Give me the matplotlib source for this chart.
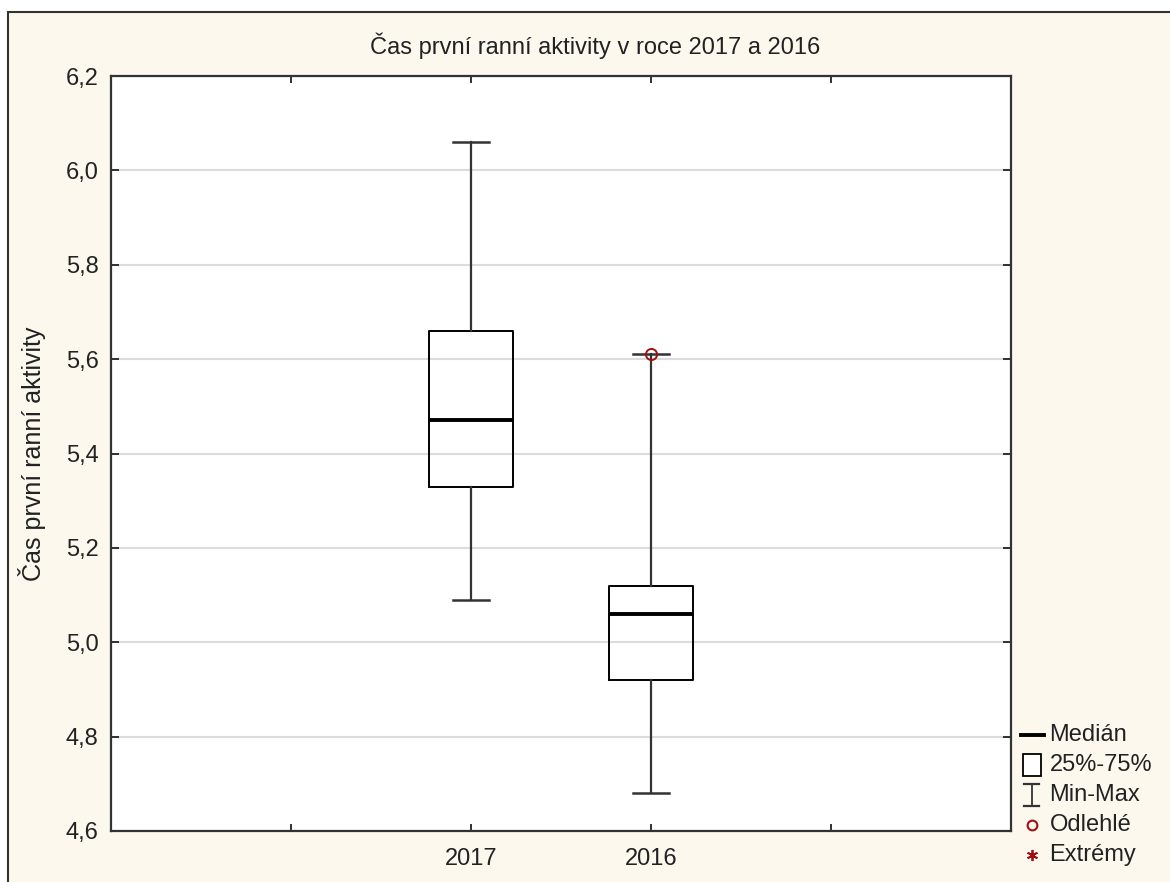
import matplotlib.pyplot as plt
import numpy as np
from matplotlib.patches import Rectangle
from matplotlib.ticker import FuncFormatter

# box statistics
years = ["2017", "2016"]
minimum = [5.09, 4.68]
q1 = [5.33, 4.92]
median = [5.47, 5.06]
q3 = [5.66, 5.12]
maximum = [6.06, 5.61]
outlier_values = [[], [5.61]]

legend_labels = ["Medián", "25%-75%", "Min-Max", "Odlehlé", "Extrémy"]

CREAM = "#fdf8ee"
RED = "#a01010"
TXT = "#222222"

plt.rcParams["font.family"] = ["Liberation Sans", "DejaVu Sans"]


def plot():
    fig = plt.figure(figsize=(11.7, 8.82), dpi=100, facecolor="white")
    W, H = 1170, 882

    # outer panel with border
    fig.patches.append(Rectangle((8 / W, -0.05), 1.1, (H - 12) / H + 0.05,
                                 transform=fig.transFigure, facecolor=CREAM,
                                 edgecolor="#333333", linewidth=1.5, zorder=-10))

    ax = fig.add_axes([111 / W, 1 - 831 / H, 900 / W, 755 / H])
    ax.set_facecolor("white")

    positions = np.arange(len(years)) + 2
    stats = []
    for i, y in enumerate(years):
        stats.append({"med": median[i], "q1": q1[i], "q3": q3[i],
                      "whislo": minimum[i], "whishi": maximum[i],
                      "fliers": outlier_values[i], "label": y})

    ax.bxp(stats, positions=positions, widths=0.47, showfliers=True,
           boxprops=dict(color="black", linewidth=1.4),
           medianprops=dict(color="black", linewidth=2.8),
           whiskerprops=dict(color="#333333", linewidth=1.6),
           capprops=dict(color="#333333", linewidth=1.8),
           capwidths=0.2,
           flierprops=dict(marker="o", markerfacecolor="none",
                           markeredgecolor=RED, markersize=8,
                           markeredgewidth=1.4))

    ax.set_xlim(0, 5)
    ax.set_ylim(4.6, 6.2)
    ax.set_yticks(np.arange(4.6, 6.21, 0.2))
    ax.yaxis.set_major_formatter(FuncFormatter(lambda v, p: f"{v:.1f}".replace(".", ",")))
    ax.set_xticks([1, 2, 3, 4])
    ax.set_xticklabels(["", years[0], years[1], ""])
    ax.grid(axis="y", color="#dcdcdc", linewidth=1.5)
    ax.set_axisbelow(True)
    ax.tick_params(direction="in", top=True, right=True, length=6, width=1.3,
                   labelsize=17, colors=TXT, pad=9)
    ax.tick_params(axis="x", length=5, pad=12)
    for s in ax.spines.values():
        s.set_linewidth(1.6)
        s.set_color("#333333")

    fig.text(595 / W, 1 - 46 / H, "Čas první ranní aktivity v roce 2017 a 2016",
             fontsize=17, color=TXT, ha="center", va="center")
    ax.set_ylabel("Čas první ranní aktivity", fontsize=18, color=TXT, labelpad=14)

    # legend glyphs drawn in a small overlay axes
    lax = fig.add_axes([1015 / W, 1 - 870 / H, 150 / W, 150 / H])
    lax.set_xlim(0, 1)
    lax.set_ylim(0, 5)
    lax.axis("off")
    rows = [4.5, 3.5, 2.5, 1.5, 0.5]
    lax.plot([0.04, 0.19], [rows[0], rows[0]], color="black", linewidth=2.8)
    lax.add_patch(Rectangle((0.05, rows[1] - 0.38), 0.12, 0.76, facecolor="white",
                            edgecolor="black", linewidth=1.3))
    lax.plot([0.11, 0.11], [rows[2] - 0.38, rows[2] + 0.38], color="#333333", linewidth=1.3)
    lax.plot([0.06, 0.16], [rows[2] + 0.38] * 2, color="#333333", linewidth=1.6)
    lax.plot([0.06, 0.16], [rows[2] - 0.38] * 2, color="#333333", linewidth=1.6)
    lax.plot([0.11], [rows[3]], marker="o", markerfacecolor="none",
             markeredgecolor=RED, markersize=7, markeredgewidth=1.5)
    lax.plot([0.11], [rows[4]], marker=(6, 2, 0), color=RED, markersize=8,
             markeredgewidth=1.3, linestyle="none")
    for r, lab in zip(rows, legend_labels):
        lax.text(0.23, r, lab, fontsize=17, va="center", ha="left", color=TXT)

    fig.savefig("out.png", dpi=100, facecolor=fig.get_facecolor())
    plt.close()


if __name__ == "__main__":
    plot()
